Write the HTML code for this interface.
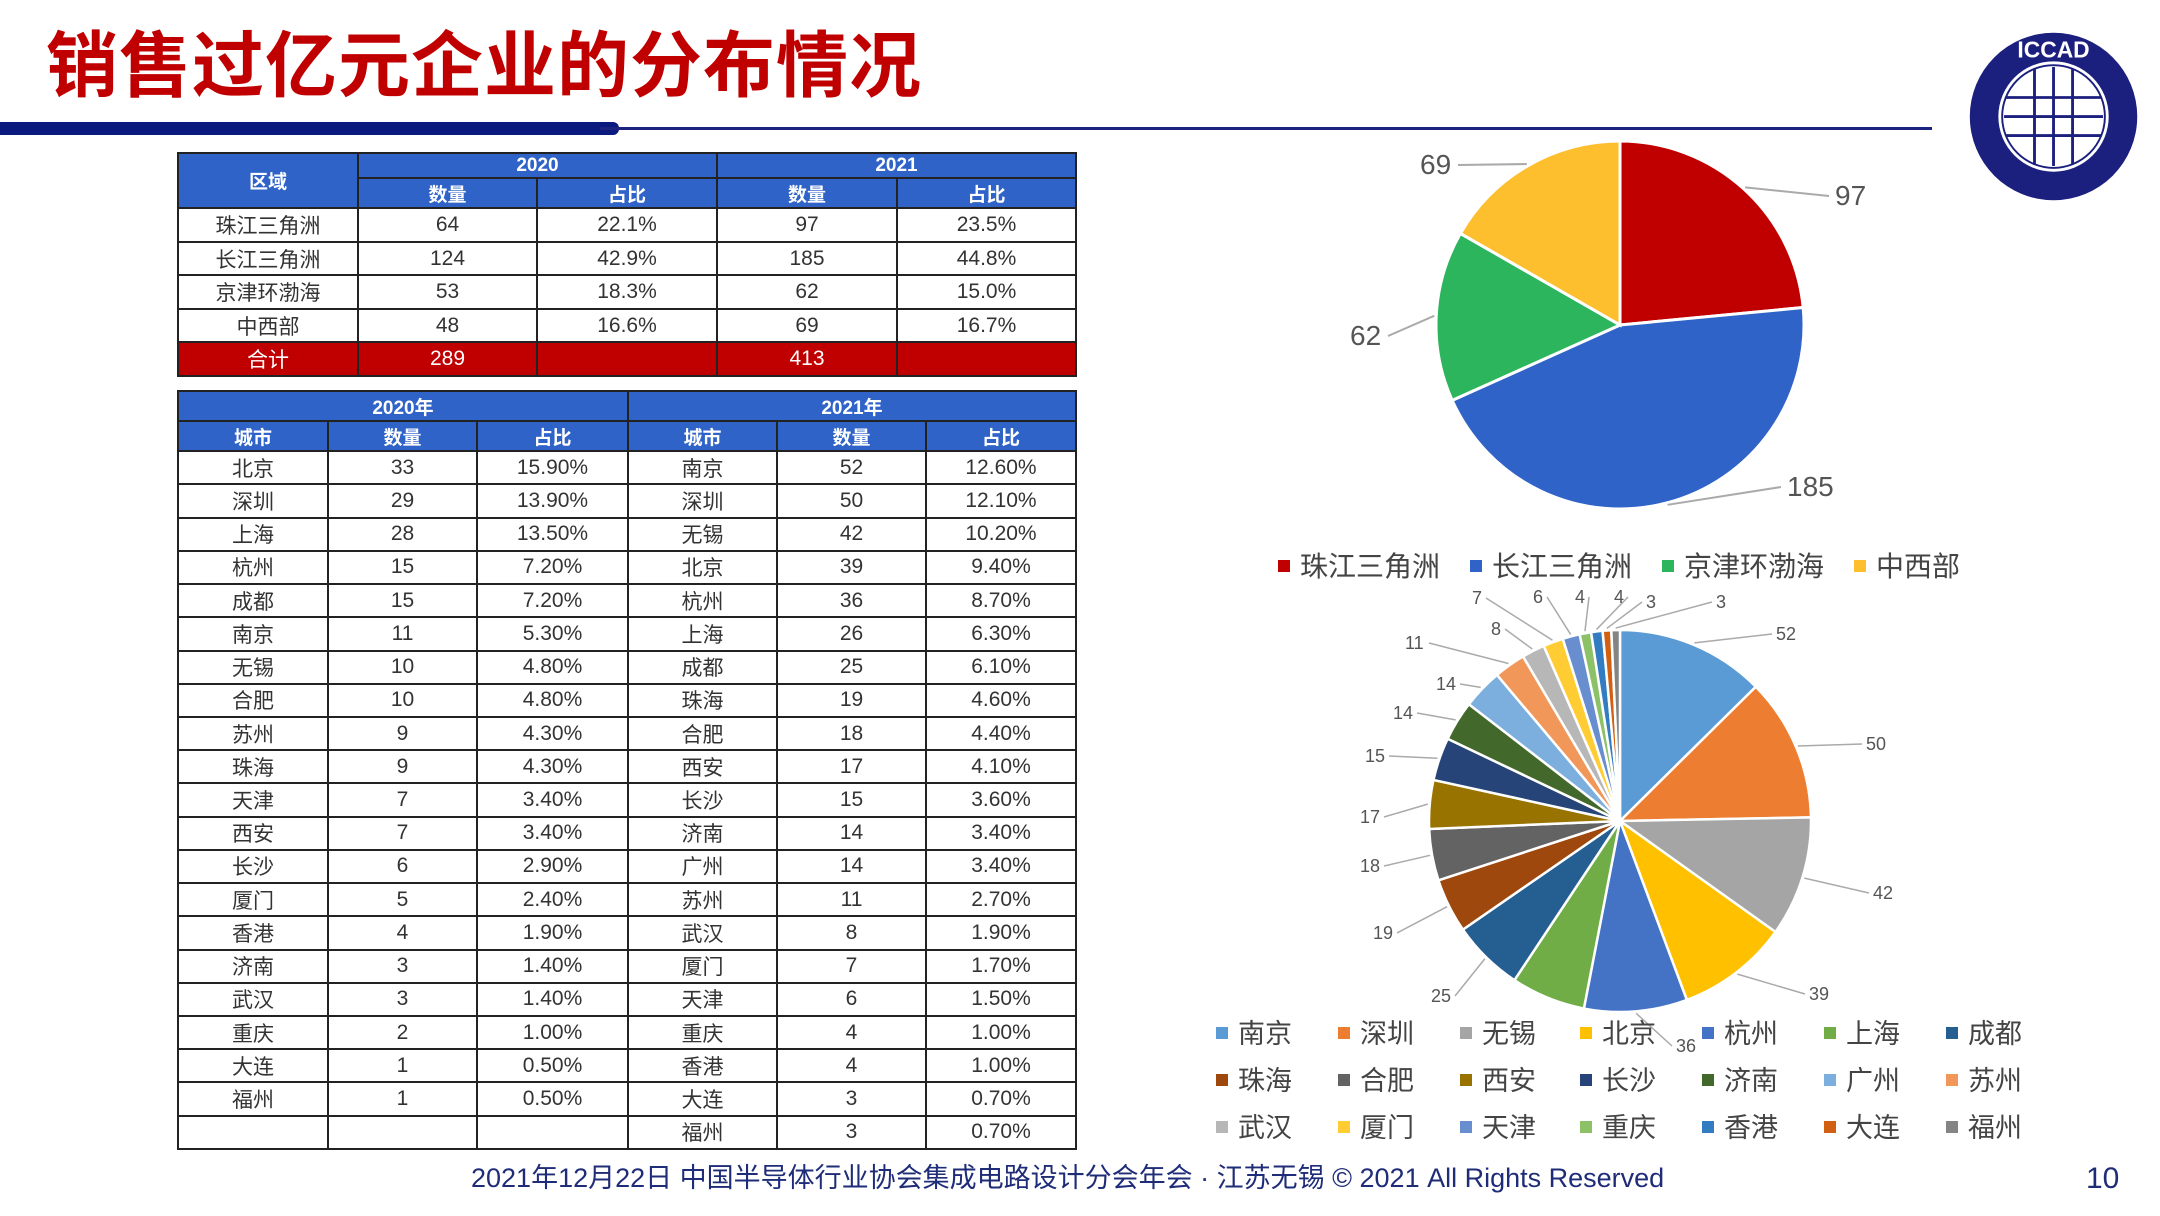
<!DOCTYPE html>
<html><head><meta charset="utf-8">
<style>
*{margin:0;padding:0;box-sizing:border-box}
body{width:2160px;height:1216px;background:#fff;position:relative;overflow:hidden;font-family:"Liberation Sans","Noto Sans CJK SC",sans-serif}
.title{position:absolute;left:46px;top:7px;font-size:72px;font-weight:bold;color:#C00000;letter-spacing:1px;font-family:"Liberation Sans","Noto Sans CJK SC",sans-serif}
table{position:absolute;border-collapse:collapse;table-layout:fixed;font-family:"Liberation Sans Narrow","Liberation Sans","Noto Sans CJK SC",sans-serif;font-size:21px;color:#333}
td{border:2px solid #222;text-align:center;padding:0;overflow:hidden;white-space:nowrap}
td.h{background:#2F63C8;color:#fff;font-weight:bold;font-family:"Liberation Sans","Noto Sans CJK SC",sans-serif;font-size:19px}
tr.red td{background:#C00000;color:#fff}
.foot{position:absolute;left:471px;top:1156px;font-size:27px;color:#1F2C78;white-space:nowrap}
.pg{position:absolute;left:2086px;top:1162px;font-size:30px;color:#1F2C78}
.lg{position:absolute;font-size:27px;color:#444;white-space:nowrap}
.lg i{display:inline-block;width:12px;height:12px;margin-right:10px;vertical-align:middle;position:relative;top:-3px}
.lg1 span{display:inline-block;margin-right:30px}
</style></head><body>
<div class="title">销售过亿元企业的分布情况</div>
<div style="position:absolute;left:0;top:122px;width:619px;height:13px;background:#0B1A7E;border-radius:0 6px 6px 0"></div>
<div style="position:absolute;left:600px;top:127px;width:1332px;height:3px;background:#1A237E"></div>
<svg style="position:absolute;left:1966px;top:29px" width="176" height="176" viewBox="0 0 185 185">
<circle cx="92" cy="92" r="88" fill="#1B1F7E"/>
<circle cx="92" cy="92" r="58" fill="#fff"/>
<circle cx="92" cy="92" r="54" fill="none" stroke="#1B1F7E" stroke-width="2"/>
<g stroke="#1B1F7E" stroke-width="3"><line x1="72" y1="42" x2="72" y2="142"/><line x1="92" y1="40" x2="92" y2="144"/><line x1="112" y1="42" x2="112" y2="142"/><line x1="42" y1="72" x2="142" y2="72"/><line x1="40" y1="92" x2="144" y2="92"/><line x1="42" y1="112" x2="142" y2="112"/></g>
<text x="92" y="30" font-size="24" fill="#fff" text-anchor="middle" font-weight="bold">ICCAD</text>
</svg>

<table style="left:177px;top:152px;width:898px;height:225px" id="t1">
<colgroup><col style="width:180px"><col style="width:179px"><col style="width:180px"><col style="width:180px"><col style="width:179px"></colgroup>
<tr><td class="h" rowspan="2">区域</td><td class="h" colspan="2">2020</td><td class="h" colspan="2">2021</td></tr>
<tr><td class="h">数量</td><td class="h">占比</td><td class="h">数量</td><td class="h">占比</td></tr>
<tr><td>珠江三角洲</td><td>64</td><td>22.1%</td><td>97</td><td>23.5%</td></tr>
<tr><td>长江三角洲</td><td>124</td><td>42.9%</td><td>185</td><td>44.8%</td></tr>
<tr><td>京津环渤海</td><td>53</td><td>18.3%</td><td>62</td><td>15.0%</td></tr>
<tr><td>中西部</td><td>48</td><td>16.6%</td><td>69</td><td>16.7%</td></tr>
<tr class="red"><td>合计</td><td>289</td><td></td><td>413</td><td></td></tr>
</table>

<table style="left:177px;top:390px;width:898px;height:760px" id="t2">
<colgroup><col style="width:150px"><col style="width:149px"><col style="width:151px"><col style="width:149px"><col style="width:149px"><col style="width:150px"></colgroup>
<tr><td class="h" colspan="3">2020年</td><td class="h" colspan="3">2021年</td></tr>
<tr><td class="h">城市</td><td class="h">数量</td><td class="h">占比</td><td class="h">城市</td><td class="h">数量</td><td class="h">占比</td></tr>
<tr><td>北京</td><td>33</td><td>15.90%</td><td>南京</td><td>52</td><td>12.60%</td></tr>
<tr><td>深圳</td><td>29</td><td>13.90%</td><td>深圳</td><td>50</td><td>12.10%</td></tr>
<tr><td>上海</td><td>28</td><td>13.50%</td><td>无锡</td><td>42</td><td>10.20%</td></tr>
<tr><td>杭州</td><td>15</td><td>7.20%</td><td>北京</td><td>39</td><td>9.40%</td></tr>
<tr><td>成都</td><td>15</td><td>7.20%</td><td>杭州</td><td>36</td><td>8.70%</td></tr>
<tr><td>南京</td><td>11</td><td>5.30%</td><td>上海</td><td>26</td><td>6.30%</td></tr>
<tr><td>无锡</td><td>10</td><td>4.80%</td><td>成都</td><td>25</td><td>6.10%</td></tr>
<tr><td>合肥</td><td>10</td><td>4.80%</td><td>珠海</td><td>19</td><td>4.60%</td></tr>
<tr><td>苏州</td><td>9</td><td>4.30%</td><td>合肥</td><td>18</td><td>4.40%</td></tr>
<tr><td>珠海</td><td>9</td><td>4.30%</td><td>西安</td><td>17</td><td>4.10%</td></tr>
<tr><td>天津</td><td>7</td><td>3.40%</td><td>长沙</td><td>15</td><td>3.60%</td></tr>
<tr><td>西安</td><td>7</td><td>3.40%</td><td>济南</td><td>14</td><td>3.40%</td></tr>
<tr><td>长沙</td><td>6</td><td>2.90%</td><td>广州</td><td>14</td><td>3.40%</td></tr>
<tr><td>厦门</td><td>5</td><td>2.40%</td><td>苏州</td><td>11</td><td>2.70%</td></tr>
<tr><td>香港</td><td>4</td><td>1.90%</td><td>武汉</td><td>8</td><td>1.90%</td></tr>
<tr><td>济南</td><td>3</td><td>1.40%</td><td>厦门</td><td>7</td><td>1.70%</td></tr>
<tr><td>武汉</td><td>3</td><td>1.40%</td><td>天津</td><td>6</td><td>1.50%</td></tr>
<tr><td>重庆</td><td>2</td><td>1.00%</td><td>重庆</td><td>4</td><td>1.00%</td></tr>
<tr><td>大连</td><td>1</td><td>0.50%</td><td>香港</td><td>4</td><td>1.00%</td></tr>
<tr><td>福州</td><td>1</td><td>0.50%</td><td>大连</td><td>3</td><td>0.70%</td></tr>
<tr><td></td><td></td><td></td><td>福州</td><td>3</td><td>0.70%</td></tr>
</table>

<svg id="pies" style="position:absolute;left:0;top:0" width="2160" height="1216"></svg>

<div class="lg lg1" style="left:1278px;top:545px;font-size:28px"><span><i style="background:#C00000"></i>珠江三角洲</span><span><i style="background:#2F63C8"></i>长江三角洲</span><span><i style="background:#2DB55D"></i>京津环渤海</span><span style="margin-right:0"><i style="background:#FDBF2D"></i>中西部</span></div>
<div id="lg2"></div>

<div class="foot">2021年12月22日 中国半导体行业协会集成电路设计分会年会 · 江苏无锡 © 2021 All Rights Reserved</div>
<div class="pg">10</div>

<script>
var NS="http://www.w3.org/2000/svg",svg=document.getElementById('pies');
function el(t,a,txt){var e=document.createElementNS(NS,t);for(var k in a)e.setAttribute(k,a[k]);if(txt!=null)e.textContent=txt;svg.appendChild(e);return e;}
function pie(cx,cy,r,vals,cols,sw){var tot=vals.reduce(function(a,b){return a+b},0),a=-Math.PI/2,mids=[];
vals.forEach(function(v,i){var b=a+v/tot*2*Math.PI;var x1=cx+r*Math.cos(a),y1=cy+r*Math.sin(a),x2=cx+r*Math.cos(b),y2=cy+r*Math.sin(b);
el('path',{d:'M'+cx+','+cy+'L'+x1+','+y1+'A'+r+','+r+' 0 '+((b-a)>Math.PI?1:0)+' 1 '+x2+','+y2+'Z',fill:cols[i],stroke:'#fff','stroke-width':sw});mids.push((a+b)/2);a=b;});return mids;}
var m1=pie(1620,325,184,[97,185,62,69],['#C00000','#2F63C8','#2DB55D','#FDBF2D'],3);
var L1=[[1835,205,'97'],[1787,496,'185'],[1350,345,'62'],[1420,174,'69']];
L1.forEach(function(l,i){var px=1620+186*Math.cos(m1[i]),py=325+186*Math.sin(m1[i]);
var lx=l[0]<1620?l[0]+l[2].length*16+6:l[0]-6;
el('polyline',{points:px+','+py+' '+lx+','+(l[1]-9),fill:'none',stroke:'#aaa','stroke-width':2});
el('text',{x:l[0],y:l[1],'font-size':28,fill:'#555','font-family':'Liberation Sans Narrow, Liberation Sans, sans-serif'},l[2]);});
var names=['南京','深圳','无锡','北京','杭州','上海','成都','珠海','合肥','西安','长沙','济南','广州','苏州','武汉','厦门','天津','重庆','香港','大连','福州'];
var v2=[52,50,42,39,36,26,25,19,18,17,15,14,14,11,8,7,6,4,4,3,3];
var c2=['#5B9BD5','#ED7D31','#A5A5A5','#FFC000','#4472C4','#70AD47','#255E91','#9E480E','#636363','#997300','#264478','#43682B','#7CAFDD','#F1975A','#B7B7B7','#FFCD33','#698ED0','#8CC168','#327DC2','#D26012','#848484'];
var m2=pie(1620,821,191,v2,c2,2.5);
var lbl=[[1776,640],[1866,750],[1873,899],[1809,1000],[1676,1052],[1431,1002],[1373,939],[1360,872],[1360,823],[1365,762],[1393,719],[1436,690],[1405,649],[1491,635],[1472,604],[1533,603],[1575,603],[1614,603],[1646,608],[1716,608]];
var order=[0,1,2,3,4,-1,5,6,7,8,9,10,11,12,13,14,15,16,17,18,19];
v2.forEach(function(v,i){var k=order[i];if(k<0)return;var l=lbl[k];var px=1620+193*Math.cos(m2[i]),py=821+193*Math.sin(m2[i]);
var w=String(v).length*10;var lx=l[0]<1620?l[0]+w+4:l[0]-4;
el('polyline',{points:px+','+py+' '+lx+','+(l[1]-6),fill:'none',stroke:'#aaa','stroke-width':1.5});
el('text',{x:l[0],y:l[1],'font-size':18,fill:'#555','font-family':'Liberation Sans Narrow, Liberation Sans, sans-serif'},String(v));});
var xs=[1216,1338,1460,1580,1702,1824,1946],ys=[1012,1059,1106],h='';
names.forEach(function(n,i){h+='<div class="lg" style="left:'+xs[i%7]+'px;top:'+ys[Math.floor(i/7)]+'px"><i style="background:'+c2[i]+'"></i>'+n+'</div>';});
document.getElementById('lg2').innerHTML=h;
</script>
</body></html>
